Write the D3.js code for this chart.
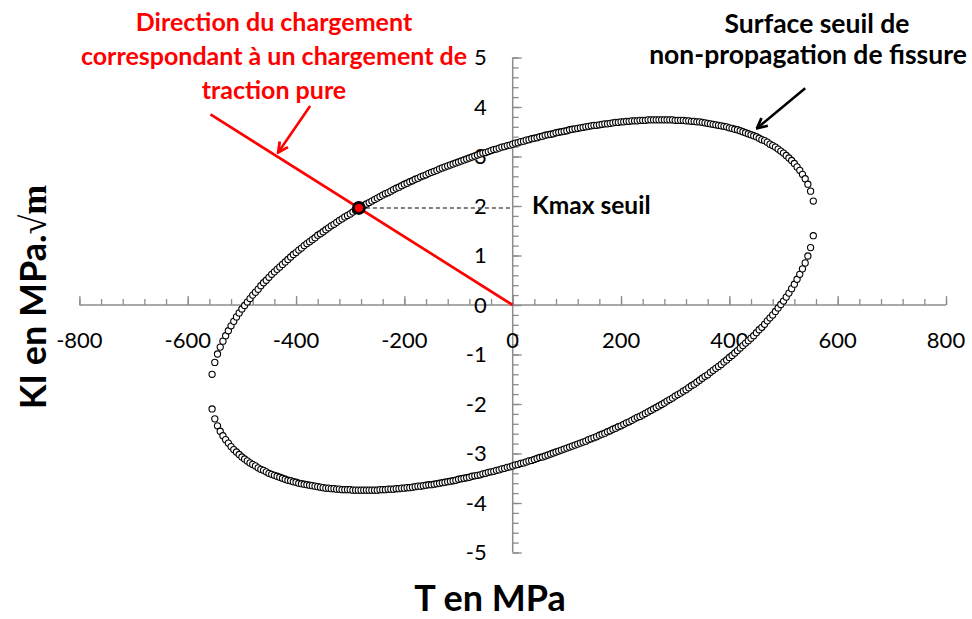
<!DOCTYPE html>
<html><head><meta charset="utf-8">
<script src="https://cdn.jsdelivr.net/npm/d3@7"></script>
<style>html,body{margin:0;padding:0;background:#fff;}svg{display:block;}</style>
</head><body>
<svg id="chart" width="972" height="619"></svg>
<script>
// ---- data ----
const tValues = [-555,-550,-545,-540,-535,-530,-525,-520,-515,-510,-505,-500,-495,-490,-485,-480,-475,-470,-465,-460,-455,-450,-445,-440,-435,-430,-425,-420,-415,-410,-405,-400,-395,-390,-385,-380,-375,-370,-365,-360,-355,-350,-345,-340,-335,-330,-325,-320,-315,-310,-305,-300,-295,-290,-285,-280,-275,-270,-265,-260,-255,-250,-245,-240,-235,-230,-225,-220,-215,-210,-205,-200,-195,-190,-185,-180,-175,-170,-165,-160,-155,-150,-145,-140,-135,-130,-125,-120,-115,-110,-105,-100,-95,-90,-85,-80,-75,-70,-65,-60,-55,-50,-45,-40,-35,-30,-25,-20,-15,-10,-5,0,5,10,15,20,25,30,35,40,45,50,55,60,65,70,75,80,85,90,95,100,105,110,115,120,125,130,135,140,145,150,155,160,165,170,175,180,185,190,195,200,205,210,215,220,225,230,235,240,245,250,255,260,265,270,275,280,285,290,295,300,305,310,315,320,325,330,335,340,345,350,355,360,365,370,375,380,385,390,395,400,405,410,415,420,425,430,435,440,445,450,455,460,465,470,475,480,485,490,495,500,505,510,515,520,525,530,535,540,545,550,555];

const kUpper = [-1.40,-1.16,-0.99,-0.85,-0.73,-0.62,-0.52,-0.42,-0.33,-0.24,
-0.16,-0.08,-0.01,0.06,0.13,0.20,0.26,0.32,0.39,0.45,
0.50,0.56,0.62,0.67,0.72,0.77,0.82,0.87,0.92,0.97,
1.02,1.06,1.11,1.15,1.20,1.24,1.28,1.32,1.36,1.41,
1.44,1.48,1.52,1.56,1.60,1.63,1.67,1.71,1.74,1.78,
1.81,1.84,1.88,1.91,1.94,1.98,2.01,2.04,2.07,2.10,
2.13,2.16,2.19,2.22,2.25,2.27,2.30,2.33,2.36,2.38,
2.41,2.44,2.46,2.49,2.51,2.54,2.56,2.59,2.61,2.63,
2.66,2.68,2.70,2.72,2.75,2.77,2.79,2.81,2.83,2.85,
2.87,2.89,2.91,2.93,2.95,2.97,2.99,3.01,3.03,3.05,
3.07,3.08,3.10,3.12,3.14,3.15,3.17,3.19,3.20,3.22,
3.23,3.25,
3.27,3.28,3.30,3.31,3.33,3.34,3.36,3.37,3.38,3.40,
3.41,3.43,3.44,3.45,3.46,3.48,3.49,3.50,3.51,3.52,
3.54,3.55,3.56,3.57,3.58,3.59,3.60,3.61,3.62,3.63,
3.63,3.64,3.65,3.66,3.66,3.67,3.68,3.69,3.69,3.70,
3.70,3.71,3.71,3.72,3.72,3.72,3.73,3.73,3.73,3.74,
3.74,3.74,3.74,3.74,3.74,3.74,3.74,3.74,3.74,3.73,
3.73,3.73,3.73,3.72,3.72,3.71,3.71,3.70,3.70,3.69,
3.68,3.67,3.66,3.65,3.64,3.63,3.62,3.61,3.60,3.58,
3.57,3.55,3.54,3.52,3.50,3.48,3.46,3.44,3.42,3.40,
3.37,3.34,3.32,3.29,3.25,3.22,3.19,3.15,3.11,3.07,
3.02,2.97,2.92,2.86,2.79,2.72,2.64,2.55,2.44,2.30,
2.10];

const kLower = [-2.10,
-2.30,-2.44,-2.55,-2.64,-2.72,-2.79,-2.86,-2.92,-2.97,-3.02,
-3.07,-3.11,-3.15,-3.19,-3.22,-3.25,-3.29,-3.32,-3.34,-3.37,
-3.40,-3.42,-3.44,-3.46,-3.48,-3.50,-3.52,-3.54,-3.55,-3.57,
-3.58,-3.60,-3.61,-3.62,-3.63,-3.64,-3.65,-3.66,-3.67,-3.68,
-3.69,-3.70,-3.70,-3.71,-3.71,-3.72,-3.72,-3.73,-3.73,-3.73,
-3.73,-3.74,-3.74,-3.74,-3.74,-3.74,-3.74,-3.74,-3.74,-3.74,
-3.74,-3.73,-3.73,-3.73,-3.72,-3.72,-3.72,-3.71,-3.71,-3.70,
-3.70,-3.69,-3.69,-3.68,-3.67,-3.66,-3.66,-3.65,-3.64,-3.63,
-3.63,-3.62,-3.61,-3.60,-3.59,-3.58,-3.57,-3.56,-3.55,-3.54,
-3.52,-3.51,-3.50,-3.49,-3.48,-3.46,-3.45,-3.44,-3.43,-3.41,
-3.40,-3.38,-3.37,-3.36,-3.34,-3.33,-3.31,-3.30,-3.28,-3.27,
-3.25,
-3.23,
-3.22,-3.20,-3.19,-3.17,-3.15,-3.14,-3.12,-3.10,-3.08,-3.07,
-3.05,-3.03,-3.01,-2.99,-2.97,-2.95,-2.93,-2.91,-2.89,-2.87,
-2.85,-2.83,-2.81,-2.79,-2.77,-2.75,-2.72,-2.70,-2.68,-2.66,
-2.63,-2.61,-2.59,-2.56,-2.54,-2.51,-2.49,-2.46,-2.44,-2.41,
-2.38,-2.36,-2.33,-2.30,-2.27,-2.25,-2.22,-2.19,-2.16,-2.13,
-2.10,-2.07,-2.04,-2.01,-1.98,-1.94,-1.91,-1.88,-1.84,-1.81,
-1.78,-1.74,-1.71,-1.67,-1.63,-1.60,-1.56,-1.52,-1.48,-1.44,
-1.41,-1.36,-1.32,-1.28,-1.24,-1.20,-1.15,-1.11,-1.06,-1.02,
-0.97,-0.92,-0.87,-0.82,-0.77,-0.72,-0.67,-0.62,-0.56,-0.50,
-0.45,-0.39,-0.32,-0.26,-0.20,-0.13,-0.06,0.01,0.08,0.16,
0.24,0.33,0.42,0.52,0.62,0.73,0.85,0.99,1.16,1.40];

// pure-traction loading direction line and Kmax threshold point
const tractionT = [0, -558];
const tractionK = [0, 3.85];
const kmaxT = -284;
const kmaxK = 1.96;

const xTickLabels = [-800,-600,-400,-200,0,200,400,600,800];
const yTickLabels = [-5,-4,-3,-2,-1,0,1,2,3,4,5];

const redLines = ["Direction du chargement","correspondant à un chargement de","traction pure"];
const blackLines = ["Surface seuil de","non-propagation de fissure"];

// ---- drawing ----
const svg = d3.select("#chart");
const x = d3.scaleLinear().domain([-800,800]).range([79.4,946]);
const y = d3.scaleLinear().domain([-5,5]).range([552.5,57.5]);
const axisCol = "#8c8c8c";
const font = "Lato, 'Open Sans', sans-serif";

const defs = svg.append("defs");
function arrowMarker(id,col){
  defs.append("marker").attr("id",id).attr("viewBox","0 0 10 10").attr("refX",9).attr("refY",5)
    .attr("markerWidth",5).attr("markerHeight",5).attr("orient","auto-start-reverse")
    .attr("markerUnits","strokeWidth")
    .append("path").attr("d","M1,1 L9,5 L1,9").attr("fill","none").attr("stroke",col).attr("stroke-width",2.2)
    .attr("stroke-linejoin","miter");
}
arrowMarker("arrRed","#ff0000");
arrowMarker("arrBlack","#000");

// axes
const gx = svg.append("g").attr("transform",`translate(0,${y(0)})`);
gx.call(d3.axisTop(x).tickValues(d3.range(-800,801,40)).tickSize(6).tickFormat(""));
gx.call(g=>g.select(".domain").remove());
const gxM = svg.append("g").attr("transform",`translate(0,${y(0)})`);
gxM.call(d3.axisTop(x).tickValues(xTickLabels).tickSize(9).tickFormat(""));
gxM.call(g=>g.select(".domain").remove());
const gy = svg.append("g").attr("transform",`translate(${x(0)},0)`);
gy.call(d3.axisRight(y).tickValues(d3.range(-25,26,1).map(v=>v/5)).tickSize(6).tickFormat(""));
gy.call(g=>g.select(".domain").remove());
const gyM = svg.append("g").attr("transform",`translate(${x(0)},0)`);
gyM.call(d3.axisRight(y).tickValues(yTickLabels).tickSize(9).tickFormat(""));
gyM.call(g=>g.select(".domain").remove());
svg.selectAll(".tick line").attr("stroke",axisCol).attr("stroke-width",1.3);

svg.append("line").attr("x1",x(-800)).attr("x2",x(800)).attr("y1",y(0)).attr("y2",y(0))
  .attr("stroke",axisCol).attr("stroke-width",1.5);
svg.append("line").attr("x1",x(0)).attr("x2",x(0)).attr("y1",y(5)).attr("y2",y(-5))
  .attr("stroke",axisCol).attr("stroke-width",1.5);

// tick labels
svg.append("g").selectAll("text").data(xTickLabels).join("text")
  .attr("x",d=>x(d)).attr("y",y(0)+43).attr("text-anchor","middle")
  .attr("font-family",font).attr("font-size",22).attr("fill","#000").text(d=>d);
svg.append("g").selectAll("text").data(yTickLabels).join("text")
  .attr("x",x(0)-26).attr("y",d=>y(d)).attr("dy","0.36em").attr("text-anchor","end")
  .attr("font-family",font).attr("font-size",22).attr("fill","#000").text(d=>d);

// dashed Kmax line
svg.append("line").attr("x1",x(kmaxT)).attr("x2",x(0)).attr("y1",y(kmaxK)).attr("y2",y(kmaxK))
  .attr("stroke","#555").attr("stroke-width",1.3).attr("stroke-dasharray","4,3");

// red traction line
svg.append("line").attr("x1",x(tractionT[0])).attr("y1",y(tractionK[0]))
  .attr("x2",x(tractionT[1])).attr("y2",y(tractionK[1]))
  .attr("stroke","#ff0000").attr("stroke-width",2.7);

// threshold surface markers
const ptsU = tValues.map((t,i)=>[t,kUpper[i]]);
const ptsL = tValues.map((t,i)=>[t,kLower[i]]);
const gm = svg.append("g");
[ptsU, ptsL].forEach(pts=>{
  gm.append("g").selectAll("circle").data(pts).join("circle")
    .attr("cx",d=>x(d[0])).attr("cy",d=>y(d[1])).attr("r",3.1)
    .attr("fill","#fff").attr("stroke","#000").attr("stroke-width",1.1);
});

// Kmax point
svg.append("circle").attr("cx",x(kmaxT)).attr("cy",y(kmaxK)).attr("r",5.5)
  .attr("fill","#ff0000").attr("stroke","#000").attr("stroke-width",2.8);

// arrows
svg.append("line").attr("x1",x(-374)).attr("y1",y(4.02)).attr("x2",x(-433)).attr("y2",y(3.08))
  .attr("stroke","#ff0000").attr("stroke-width",2.5).attr("marker-end","url(#arrRed)");
svg.append("line").attr("x1",x(540)).attr("y1",y(4.38)).attr("x2",x(451)).attr("y2",y(3.57))
  .attr("stroke","#000").attr("stroke-width",2.5).attr("marker-end","url(#arrBlack)");

// annotations
svg.append("g").selectAll("text").data(redLines).join("text")
  .attr("x",274).attr("y",(d,i)=>31+i*34).attr("text-anchor","middle")
  .attr("font-family",font).attr("font-weight","bold").attr("font-size",25).attr("fill","#ff0000").text(d=>d);
svg.append("g").selectAll("text").data(blackLines).join("text")
  .attr("x",(d,i)=>i===0?817:808).attr("y",(d,i)=>33+i*30.5).attr("text-anchor","middle")
  .attr("font-family",font).attr("font-weight","bold").attr("font-size",26.5).attr("fill","#000").text(d=>d);
svg.append("text").attr("x",532).attr("y",214).attr("font-family",font).attr("font-weight","bold")
  .attr("font-size",24.5).attr("fill","#000").text("Kmax seuil");

// axis titles
svg.append("text").attr("x",490).attr("y",611).attr("text-anchor","middle")
  .attr("font-family",font).attr("font-weight","bold").attr("font-size",36).attr("fill","#000").text("T en MPa");
const yt = svg.append("text").attr("transform","translate(46,297) rotate(-90)").attr("text-anchor","middle")
  .attr("font-family",font).attr("font-weight","bold").attr("font-size",36).attr("fill","#000");
yt.append("tspan").text("KI en MPa.");
yt.append("tspan").attr("font-family","'Liberation Serif', serif").attr("font-weight","normal").text("\u221A");
yt.append("tspan").attr("font-family","'Liberation Serif', serif").text("m");
</script>
</body></html>
